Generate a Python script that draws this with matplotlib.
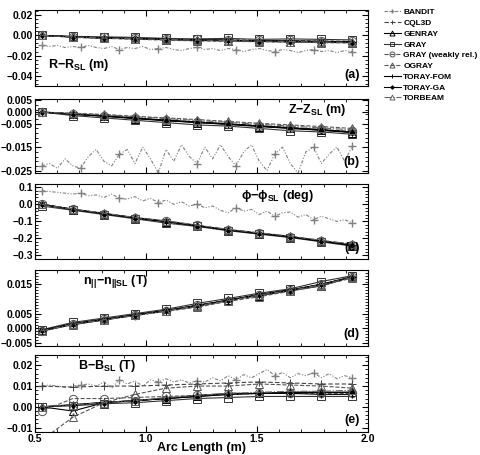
import matplotlib
matplotlib.use("Agg")
import matplotlib.pyplot as plt
from matplotlib.ticker import AutoMinorLocator

plt.rcParams['font.family'] = ['Liberation Sans', 'DejaVu Sans']
plt.rcParams['font.weight'] = 'bold'
plt.rcParams['mathtext.fontset'] = 'custom'
plt.rcParams['mathtext.rm'] = 'Liberation Sans:bold'
plt.rcParams['mathtext.it'] = 'Liberation Sans:bold'
plt.rcParams['mathtext.bf'] = 'Liberation Sans:bold'

# arc length grids (m)
s = [0.53, 0.67, 0.81, 0.95, 1.09, 1.23, 1.37, 1.51, 1.65, 1.79, 1.93]
s_fine = [0.53, 0.565, 0.60, 0.635, 0.67, 0.705, 0.74, 0.775, 0.81, 0.845,
          0.88, 0.915, 0.95, 0.985, 1.02, 1.055, 1.09, 1.125, 1.16, 1.195,
          1.23, 1.265, 1.30, 1.335, 1.37, 1.405, 1.44, 1.475, 1.51, 1.545,
          1.58, 1.615, 1.65, 1.685, 1.72, 1.755, 1.79, 1.825, 1.86, 1.895, 1.93]

codes = ['BANDIT', 'CQL3D', 'GENRAY', 'GRAY', 'GRAY (weakly rel.)', 'OGRAY',
         'TORAY-FOM', 'TORAY-GA', 'TORBEAM']

# BANDIT curves (noisy, fine grid except panel d)
bandit_R = [-0.010, -0.011, -0.010, -0.012, -0.011, -0.012, -0.010, -0.012, -0.013, -0.011,
            -0.014, -0.012, -0.013, -0.011, -0.014, -0.013, -0.012, -0.014, -0.015, -0.013,
            -0.012, -0.014, -0.013, -0.015, -0.013, -0.014, -0.016, -0.014, -0.013, -0.015,
            -0.016, -0.014, -0.015, -0.017, -0.015, -0.014, -0.016, -0.015, -0.017, -0.015, -0.016]
bandit_Z = [-0.023, -0.022, -0.024, -0.020, -0.023, -0.024, -0.019, -0.016, -0.021, -0.023,
            -0.018, -0.016, -0.022, -0.015, -0.020, -0.026, -0.016, -0.021, -0.014, -0.019,
            -0.022, -0.015, -0.020, -0.014, -0.019, -0.023, -0.017, -0.014, -0.021, -0.025,
            -0.018, -0.015, -0.022, -0.026, -0.017, -0.015, -0.022, -0.018, -0.015, -0.021, -0.0145]
bandit_phi = [0.08, 0.075, 0.07, 0.065, 0.06, 0.065, 0.05, 0.055, 0.04, 0.06,
              0.035, 0.03, 0.045, 0.02, 0.035, 0.01, 0.025, 0.0, 0.015, -0.01,
              0.0, -0.02, -0.01, -0.035, -0.05, -0.02, -0.04, -0.03, -0.06, -0.04,
              -0.07, -0.05, -0.045, -0.075, -0.06, -0.09, -0.07, -0.085, -0.10, -0.09, -0.11]
bandit_n = [-0.001, 0.0012, 0.0032, 0.0042, 0.0062, 0.0075, 0.0098, 0.0112, 0.0133, 0.0148, 0.018]
bandit_B = [0.010, 0.0105, 0.010, 0.0095, 0.010, 0.0105, 0.011, 0.010, 0.012, 0.009,
            0.013, 0.011, 0.0125, 0.010, 0.013, 0.012, 0.0135, 0.012, 0.013, 0.0115,
            0.0125, 0.012, 0.014, 0.0125, 0.015, 0.013, 0.0155, 0.014, 0.016, 0.018,
            0.015, 0.0165, 0.014, 0.016, 0.015, 0.0165, 0.014, 0.016, 0.0135, 0.015, 0.014]

# other codes on grid s, order: CQL3D, GENRAY, GRAY, GRAY(w), OGRAY, TORAY-FOM, TORAY-GA, TORBEAM
dR = [
    [0, -0.0015, -0.0025, -0.003, -0.0038, -0.0042, -0.0048, -0.0052, -0.0056, -0.006, -0.0063],
    [0, -0.0018, -0.0028, -0.0035, -0.0042, -0.005, -0.0055, -0.006, -0.0065, -0.007, -0.0072],
    [0, -0.001, -0.0015, -0.002, -0.003, -0.0035, -0.003, -0.004, -0.0035, -0.004, -0.0045],
    [0, -0.0012, -0.002, -0.0028, -0.0033, -0.004, -0.0043, -0.0048, -0.005, -0.0055, -0.0058],
    [0, -0.002, -0.003, -0.0038, -0.0048, -0.0055, -0.006, -0.0063, -0.0068, -0.0072, -0.0075],
    [0, -0.0015, -0.0025, -0.0032, -0.004, -0.0045, -0.005, -0.0054, -0.0058, -0.0062, -0.0065],
    [0, -0.0014, -0.0024, -0.0031, -0.0038, -0.0044, -0.0049, -0.0053, -0.0057, -0.006, -0.0063],
    [0, -0.0016, -0.0027, -0.0034, -0.0041, -0.0047, -0.0052, -0.0057, -0.0061, -0.0066, -0.0069],
]
dZ = [
    [0, -0.0008, -0.0015, -0.0025, -0.0035, -0.0042, -0.005, -0.006, -0.0068, -0.0075, -0.0085],
    [0, -0.001, -0.0018, -0.0028, -0.0037, -0.0045, -0.0053, -0.0062, -0.007, -0.0078, -0.0088],
    [0, -0.0015, -0.0025, -0.0035, -0.0045, -0.0055, -0.006, -0.007, -0.008, -0.0085, -0.0095],
    [0, -0.0009, -0.0016, -0.0026, -0.0034, -0.0042, -0.005, -0.0058, -0.0066, -0.0074, -0.0083],
    [0, -0.0005, -0.001, -0.0018, -0.0025, -0.0032, -0.004, -0.0048, -0.0055, -0.0062, -0.007],
    [0, -0.0009, -0.0017, -0.0027, -0.0036, -0.0044, -0.0052, -0.006, -0.0069, -0.0077, -0.0086],
    [0, -0.0008, -0.0016, -0.0026, -0.0035, -0.0043, -0.0051, -0.0059, -0.0067, -0.0076, -0.0085],
    [0, -0.0006, -0.0012, -0.002, -0.0028, -0.0036, -0.0044, -0.0052, -0.006, -0.0068, -0.0076],
]
dphi = [
    [0, -0.028, -0.053, -0.078, -0.098, -0.123, -0.148, -0.168, -0.188, -0.212, -0.236],
    [0, -0.031, -0.056, -0.081, -0.102, -0.127, -0.152, -0.172, -0.192, -0.217, -0.242],
    [-0.01, -0.035, -0.06, -0.085, -0.11, -0.13, -0.155, -0.175, -0.195, -0.22, -0.245],
    [0, -0.029, -0.054, -0.079, -0.099, -0.124, -0.149, -0.169, -0.189, -0.213, -0.238],
    [0, -0.03, -0.055, -0.08, -0.10, -0.125, -0.15, -0.17, -0.19, -0.214, -0.232],
    [0, -0.03, -0.055, -0.08, -0.101, -0.126, -0.151, -0.171, -0.191, -0.216, -0.241],
    [0, -0.029, -0.054, -0.079, -0.1, -0.125, -0.15, -0.17, -0.19, -0.215, -0.24],
    [0, -0.028, -0.052, -0.077, -0.097, -0.122, -0.147, -0.167, -0.187, -0.211, -0.235],
]
dn = [
    [-0.0008, 0.0014, 0.0029, 0.0044, 0.0059, 0.0077, 0.0094, 0.0114, 0.0129, 0.0149, 0.0174],
    [-0.001, 0.0013, 0.0028, 0.0046, 0.006, 0.0075, 0.0097, 0.0112, 0.0128, 0.0145, 0.0176],
    [-0.0005, 0.002, 0.0035, 0.005, 0.0065, 0.0085, 0.0102, 0.012, 0.0135, 0.016, 0.018],
    [-0.0008, 0.0015, 0.003, 0.0045, 0.006, 0.0078, 0.0095, 0.0115, 0.013, 0.015, 0.0175],
    [-0.0008, 0.0012, 0.0028, 0.0044, 0.0058, 0.0072, 0.0092, 0.0108, 0.0127, 0.0146, 0.0172],
    [-0.0008, 0.0015, 0.003, 0.0045, 0.006, 0.0078, 0.0095, 0.0115, 0.013, 0.015, 0.0175],
    [-0.0007, 0.0016, 0.0031, 0.0046, 0.0061, 0.0079, 0.0096, 0.0116, 0.0131, 0.0151, 0.0176],
    [-0.0009, 0.0014, 0.0029, 0.0044, 0.0059, 0.0077, 0.0094, 0.0114, 0.0129, 0.0149, 0.0174],
]
dB = [
    [0.010, 0.0095, 0.010, 0.010, 0.0105, 0.011, 0.0115, 0.012, 0.0115, 0.011, 0.011],
    [0, -0.002, 0.002, 0.003, 0.004, 0.005, 0.006, 0.0065, 0.007, 0.007, 0.007],
    [0, 0.0005, 0.0015, 0.002, 0.003, 0.004, 0.0045, 0.005, 0.005, 0.005, 0.005],
    [-0.002, 0.004, 0.004, 0.0045, 0.005, 0.0055, 0.006, 0.0065, 0.0065, 0.0065, 0.0065],
    [-0.016, -0.005, 0.002, 0.006, 0.009, 0.010, 0.010, 0.011, 0.0105, 0.010, 0.009],
    [0, 0.001, 0.0022, 0.003, 0.004, 0.0055, 0.0065, 0.0065, 0.0065, 0.006, 0.006],
    [0, 0.001, 0.002, 0.003, 0.004, 0.005, 0.006, 0.0065, 0.007, 0.007, 0.007],
    [0, 0.001, 0.002, 0.003, 0.0045, 0.0055, 0.0065, 0.007, 0.0075, 0.0075, 0.008],
]

styles = [
    dict(ls=(0, (3, 1.5, 1, 1.5, 1, 1.5)), marker='+', color='#808080', mfc='none'),
    dict(ls=(0, (4, 2)), marker='+', color='#444444', mfc='none'),
    dict(ls='-', marker='^', color='black', mfc='none'),
    dict(ls='-', marker='s', color='#333333', mfc='none'),
    dict(ls='--', marker='o', color='#555555', mfc='none'),
    dict(ls='--', marker='^', color='#555555', mfc='none'),
    dict(ls='-', marker='+', color='black', mfc='none'),
    dict(ls='-', marker='D', color='black', mfc='black', ms=3),
    dict(ls='-.', marker='^', color='#666666', mfc='none'),
]

panels = [
    (bandit_R, s_fine, dR, (-0.05, 0.025), [0.02, 0.0, -0.02, -0.04], '%.2f',
     r'R$-$R$_{\mathrm{SL}}$ (m)', (0.04, 0.28), '(a)'),
    (bandit_Z, s_fine, dZ, (-0.026, 0.0055), [0.005, 0.0, -0.005, -0.015, -0.025], '%.3f',
     r'Z$-$Z$_{\mathrm{SL}}$ (m)', (0.76, 0.86), '(b)'),
    (bandit_phi, s_fine, dphi, (-0.32, 0.12), [0.1, 0.0, -0.1, -0.2, -0.3], '%.1f',
     '\u03d5\u2212\u03d5$_{\\mathrm{SL}}$ (deg)', (0.62, 0.84), '(c)'),
    (bandit_n, s, dn, (-0.006, 0.020), [0.015, 0.005, 0.0, -0.005], '%.3f',
     r'n$_{||}$$-$n$_{||\mathrm{SL}}$ (T)', (0.145, 0.84), '(d)'),
    (bandit_B, s_fine, dB, (-0.012, 0.025), [0.02, 0.01, 0.0, -0.01], '%.2f',
     r'B$-$B$_{\mathrm{SL}}$ (T)', (0.13, 0.86), '(e)'),
]

fig = plt.figure(figsize=(4.81, 4.55), dpi=100)
boxes = [(0.811, 0.978), (0.620, 0.782), (0.431, 0.596), (0.240, 0.407), (0.051, 0.220)]
left, right = 0.073, 0.765

for k, (bd, bx, rest, ylim, yt, fmt, lab, pos, tag) in enumerate(panels):
    b0, b1 = boxes[k]
    ax = fig.add_axes([left, b0, right - left, b1 - b0])
    st = styles[0]
    ax.plot(bx, bd, lw=0.8, ms=6, markevery=5 if len(bx) > 20 else 1,
            label=codes[0], **st)
    for j, ys in enumerate(rest):
        st = dict(styles[j + 1])
        ms = st.pop('ms', 6)
        ax.plot(s, ys, lw=0.8, ms=ms, mew=0.7, label=codes[j + 1], **st)
    ax.set_xlim(0.5, 2.0)
    ax.set_ylim(*ylim)
    ax.set_yticks(yt)
    ax.set_yticklabels([(fmt % v).replace('-', '\u2212') for v in yt])
    ax.set_xticks([0.5, 1.0, 1.5, 2.0])
    ax.xaxis.set_minor_locator(AutoMinorLocator(5))
    ax.yaxis.set_minor_locator(AutoMinorLocator(5))
    ax.tick_params(which='both', direction='in', top=True, right=True,
                   labelsize=7.5, pad=1.5)
    ax.tick_params(which='major', length=4)
    ax.tick_params(which='minor', length=2)
    if k < 4:
        ax.set_xticklabels([])
    else:
        ax.set_xticklabels(['0.5', '1.0', '1.5', '2.0'])
        ax.set_xlabel('Arc Length (m)', fontsize=9, fontweight='bold', labelpad=-1)
    ax.text(pos[0], pos[1], lab, transform=ax.transAxes, ha='left', va='center',
            fontsize=9, fontweight='bold')
    ax.text(0.975, 0.15, tag, transform=ax.transAxes, ha='right', va='center',
            fontsize=9, fontweight='bold')
    if k == 0:
        handles, labels = ax.get_legend_handles_labels()

fig.legend(handles, labels, loc='upper left', bbox_to_anchor=(0.795, 0.985),
           frameon=False, fontsize=6, handlelength=2.0, labelspacing=0.35,
           handletextpad=0.3, markerscale=0.6, borderaxespad=0, borderpad=0.2)

fig.savefig('out.png', dpi=100)
